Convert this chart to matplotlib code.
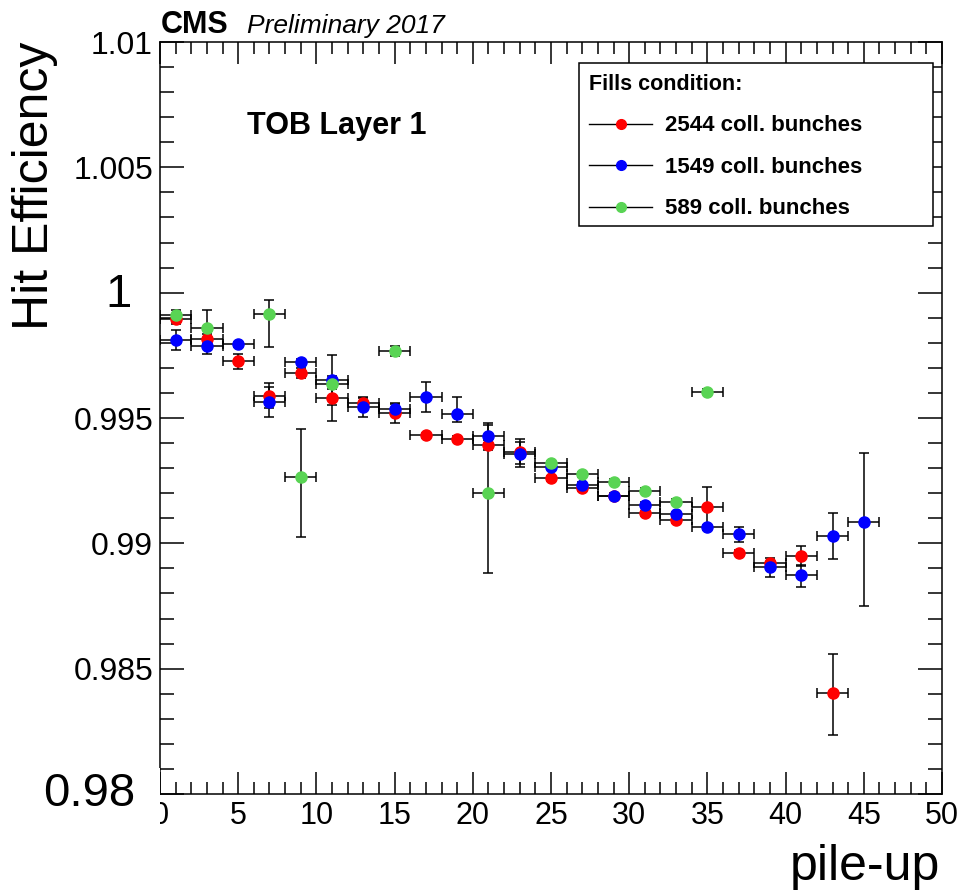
import matplotlib
matplotlib.use('agg')
import matplotlib.pyplot as plt
from matplotlib.ticker import MultipleLocator, FuncFormatter
from matplotlib.lines import Line2D
from matplotlib.patches import Rectangle

plt.rcParams['font.family'] = ['Liberation Sans', 'DejaVu Sans']

# 2544 colliding bunches
red_x = [1, 3, 5, 7, 9, 11, 13, 15, 17, 19, 21, 23, 25, 27, 29, 31, 33, 35, 37, 39, 41, 43]
red_y = [0.99894, 0.99814, 0.99726, 0.99588, 0.99678, 0.99579, 0.99559, 0.99519, 0.99432, 0.99418,
         0.99392, 0.99366, 0.99260, 0.99220, 0.99188, 0.99120, 0.99093, 0.99146, 0.98963, 0.98920,
         0.98950, 0.98402]
red_lo = [0.0002, 0.0002, 0.0003, 0.0005, 0.0002, 0.0009, 0.0002, 0.0004, 0.0001, 0.0001,
          0.0002, 0.0005, 0.0001, 0.0001, 0.0001, 0.0001, 0.0001, 0.0008, 0.0001, 0.0002,
          0.0004, 0.00168]
red_hi = [0.0002, 0.0002, 0.0003, 0.0005, 0.0002, 0.0009, 0.0002, 0.0004, 0.0001, 0.0001,
          0.0002, 0.0005, 0.0001, 0.0001, 0.0001, 0.0001, 0.0001, 0.0008, 0.0001, 0.0002,
          0.0004, 0.00157]

# 1549 colliding bunches
blue_x = [1, 3, 5, 7, 9, 11, 13, 15, 17, 19, 21, 23, 25, 27, 29, 31, 33, 35, 37, 39, 41, 43, 45]
blue_y = [0.99811, 0.99787, 0.99795, 0.99565, 0.99725, 0.99652, 0.99545, 0.99535, 0.99585, 0.99515,
          0.99429, 0.99355, 0.99306, 0.99233, 0.99190, 0.99153, 0.99116, 0.99064, 0.99036, 0.98904,
          0.98874, 0.99031, 0.99086]
blue_lo = [0.0004, 0.0003, 0.0001, 0.0006, 0.0001, 0.0010, 0.0004, 0.0002, 0.0006, 0.0003,
           0.0003, 0.0005, 0.0001, 0.0001, 0.0001, 0.0001, 0.0001, 0.0001, 0.0003, 0.0004,
           0.0005, 0.00094, 0.00336]
blue_hi = [0.0004, 0.0003, 0.0001, 0.0006, 0.0001, 0.0010, 0.0004, 0.0002, 0.0006, 0.0007,
           0.0005, 0.0005, 0.0001, 0.0001, 0.0001, 0.0001, 0.0001, 0.0001, 0.0003, 0.0002,
           0.0004, 0.00089, 0.00275]

# 589 colliding bunches
green_x = [1, 3, 7, 9, 11, 15, 21, 25, 27, 29, 31, 33, 35]
green_y = [0.99911, 0.99860, 0.99915, 0.99266, 0.99635, 0.99768, 0.99202, 0.99319, 0.99275,
           0.99246, 0.99209, 0.99166, 0.99605]
green_lo = [0.0003, 0.0004, 0.0013, 0.0024, 0.0002, 0.0002, 0.0032, 0.0001, 0.0001,
            0.0001, 0.0001, 0.0001, 0.0001]
green_hi = [0.0002, 0.0007, 0.00056, 0.0019, 0.0002, 0.0002, 0.0027, 0.0001, 0.0001,
            0.0001, 0.0001, 0.0001, 0.0001]

bin_half = 1  # pile-up bins are 2 wide

series = [
    (red_x, red_y, red_lo, red_hi, '#ff0000', '2544 coll. bunches'),
    (blue_x, blue_y, blue_lo, blue_hi, '#0000ff', '1549 coll. bunches'),
    (green_x, green_y, green_lo, green_hi, '#59d454', '589 coll. bunches'),
]

W, H = 979, 896
fig = plt.figure(figsize=(W / 100, H / 100), dpi=100)
ax = fig.add_axes([160 / W, 1 - 794 / H, (942 - 160) / W, (794 - 42) / H])

for xs, ys, lo, hi, col, lab in series:
    ax.errorbar(xs, ys, xerr=bin_half, yerr=[lo, hi], fmt='o', color=col, ms=8,
                ecolor='black', elinewidth=1.1, capsize=3.5, capthick=1.1)

ax.set_xlim(0, 50)
ax.set_ylim(0.98, 1.01)
ax.xaxis.set_major_locator(MultipleLocator(5))
ax.xaxis.set_minor_locator(MultipleLocator(1))
ax.yaxis.set_major_locator(MultipleLocator(0.005))
ax.yaxis.set_minor_locator(MultipleLocator(0.001))


def yfmt(v, pos):
    # 1 and 0.98 are drawn separately, bigger
    if abs(v - 1.0) < 1e-6 or abs(v - 0.98) < 1e-6:
        return ''
    return '%g' % v


ax.yaxis.set_major_formatter(FuncFormatter(yfmt))
ax.tick_params(which='both', direction='in', top=True, right=True, width=1.1, colors='black')
ax.tick_params(axis='x', which='major', length=16, labelsize=22, pad=5)
ax.tick_params(axis='x', which='minor', length=8.5)
ax.tick_params(axis='y', which='major', length=17, labelsize=23, pad=5)
ax.tick_params(axis='y', which='minor', length=10)
for s in ax.spines.values():
    s.set_linewidth(1.1)

# white patch left of the origin, then the big labels
ax.add_patch(Rectangle((38 / W, 1 - 838 / H), (159.5 - 38) / W, (838 - 768) / H,
                       transform=fig.transFigure, facecolor='white', edgecolor='none',
                       clip_on=False, zorder=4))
ax.annotate('1', xy=(0, 1.0), xycoords='data', xytext=(-28, -2), textcoords='offset pixels',
            ha='right', va='center', fontsize=34, annotation_clip=False)
ax.annotate('0.98', xy=(0, 0.98), xycoords='data', xytext=(-25, 0), textcoords='offset pixels',
            ha='right', va='center', fontsize=34, annotation_clip=False, zorder=5)

fig.text(12.5 / W, 1 - 42 / H, 'Hit Efficiency', rotation=90, ha='left', va='top', fontsize=36)
fig.text(940 / W, 1 - 843.5 / H, 'pile-up', ha='right', va='top', fontsize=36)

fig.text(161 / W, 1 - 33 / H, 'CMS', fontsize=22, fontweight='bold', va='baseline')
fig.text(247 / W, 1 - 33 / H, 'Preliminary 2017', fontsize=19, fontstyle='italic', va='baseline')
fig.text(247 / W, 1 - 134 / H, 'TOB Layer 1', fontsize=22, fontweight='bold', va='baseline')

# legend box
fig.patches.append(Rectangle((579 / W, 1 - 226 / H), (933 - 579) / W, (226 - 63) / H,
                             transform=fig.transFigure, facecolor='white', edgecolor='black',
                             linewidth=1.1, zorder=3))
handles = [Line2D([], [], color='black', lw=1, marker='o', ms=7, mfc=c, mec=c)
           for _, _, _, _, c, _ in series]
labels = [lab for *_, lab in series]
leg = fig.legend(handles, labels, loc='upper left', bbox_to_anchor=(589 / W, 1 - 74 / H),
                 frameon=False, borderpad=0, borderaxespad=0, handlelength=2.85,
                 handletextpad=0.55, labelspacing=0.92, title='Fills condition:',
                 alignment='left', prop={'size': 16, 'weight': 'bold'},
                 title_fontproperties={'size': 15.5, 'weight': 'bold'})
leg.set_zorder(4)

fig.savefig('out.png', dpi=100)
